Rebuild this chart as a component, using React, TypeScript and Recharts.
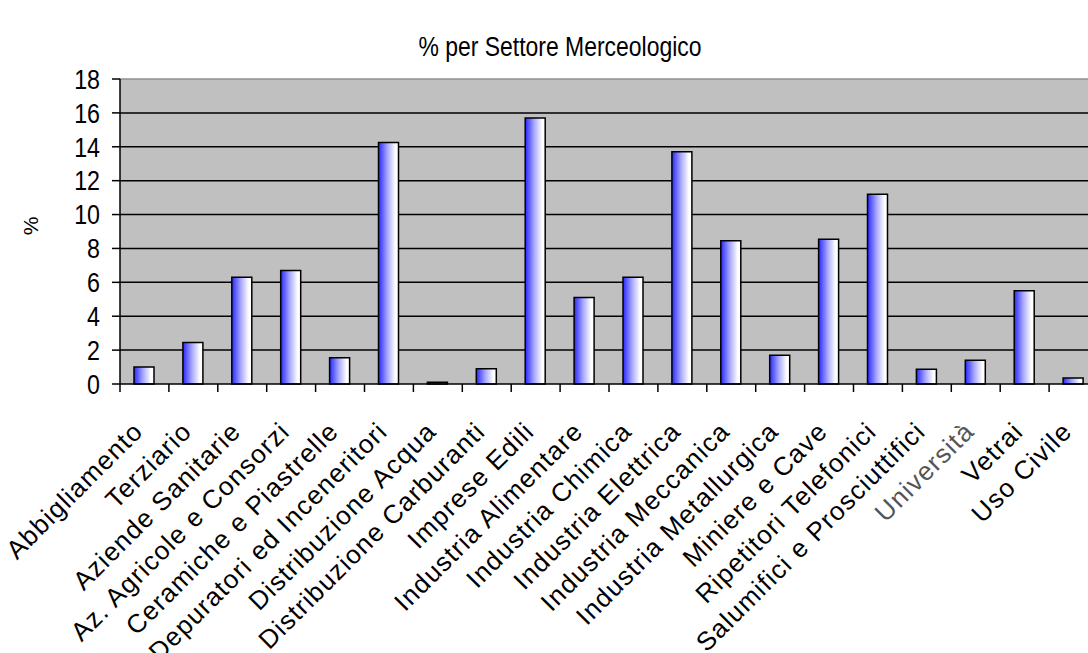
import React from 'react';
import { BarChart, Bar, XAxis, YAxis, CartesianGrid, ReferenceLine } from 'recharts';

const categories = [
  'Abbigliamento',
  'Terziario',
  'Aziende Sanitarie',
  'Az. Agricole e Consorzi',
  'Ceramiche e Piastrelle',
  'Depuratori ed Inceneritori',
  'Distribuzione Acqua',
  'Distribuzione Carburanti',
  'Imprese Edili',
  'Industria Alimentare',
  'Industria Chimica',
  'Industria Elettrica',
  'Industria Meccanica',
  'Industria Metallurgica',
  'Miniere e Cave',
  'Ripetitori Telefonici',
  'Salumifici e Prosciuttifici',
  'Università',
  'Vetrai',
  'Uso Civile',
];

const values = [1.0, 2.45, 6.3, 6.7, 1.55, 14.25, 0.1, 0.9, 15.7, 5.1, 6.3, 13.7, 8.45, 1.7, 8.55, 11.2, 0.87, 1.4, 5.5, 0.35];

const yTicks = [0, 2, 4, 6, 8, 10, 12, 14, 16, 18];
const gridValues = [2, 4, 6, 8, 10, 12, 14, 16];

const title = '% per Settore Merceologico';
const yLabel = '%';

const data = categories.map((name, i) => ({ name, value: values[i] }));

const CHART_W = 1110;
const CHART_H = 653;
const PLOT_LEFT = 120;
const PLOT_TOP = 79;
const PLOT_BOTTOM = 384;
const PLOT_RIGHT = 1098;
const BW = (PLOT_RIGHT - PLOT_LEFT) / categories.length;
const FONT = '"Liberation Sans", Arial, sans-serif';

const XTick = (props: any) => {
  const { x, payload } = props;
  const ax = x;
  const ay = PLOT_BOTTOM + 49;
  return (
    <g>
      <line x1={x - BW / 2} x2={x - BW / 2} y1={PLOT_BOTTOM} y2={PLOT_BOTTOM + 8} stroke="#000" strokeWidth={1.5} />
      <text
        x={ax}
        y={ay}
        textAnchor="end"
        transform={`rotate(-45, ${ax}, ${ay})`}
        fontSize={26}
        letterSpacing={1.2}
        fontFamily={FONT}
        fill={payload.value === 'Università' ? '#555' : '#000'}
      >
        {payload.value}
      </text>
    </g>
  );
};

const YTick = (props: any) => {
  const { y, payload } = props;
  return (
    <text
      transform={`translate(${PLOT_LEFT - 20}, ${y}) scale(0.83, 1)`}
      textAnchor="end"
      dominantBaseline="central"
      fontSize={28}
      fontFamily={FONT}
      fill="#000"
    >
      {payload.value}
    </text>
  );
};

export default function App() {
  return (
    <div style={{ position: 'absolute', left: 0, top: 0, width: 1088, height: 653, overflow: 'hidden', background: '#fff' }}>
      <div
        style={{
          position: 'absolute',
          left: 310,
          top: 32,
          width: 500,
          textAlign: 'center',
          fontFamily: FONT,
          fontSize: 27,
          lineHeight: '30px',
          color: '#000',
          transform: 'scaleX(0.85)',
          whiteSpace: 'nowrap',
        }}
      >
        {title}
      </div>
      <div
        style={{
          position: 'absolute',
          left: 11,
          top: 212,
          width: 40,
          height: 28,
          textAlign: 'center',
          fontFamily: FONT,
          fontSize: 21,
          lineHeight: '28px',
          color: '#000',
          transform: 'rotate(-90deg)',
        }}
      >
        {yLabel}
      </div>
      <BarChart
        width={CHART_W}
        height={CHART_H}
        data={data}
        margin={{ top: PLOT_TOP, right: CHART_W - PLOT_RIGHT, bottom: 0, left: 0 }}
        barSize={20}
      >
        <defs>
          <linearGradient id="barGrad" x1="0" y1="0" x2="1" y2="0">
            <stop offset="0%" stopColor="#2828ff" />
            <stop offset="45%" stopColor="#a8a8ff" />
            <stop offset="85%" stopColor="#ffffff" />
            <stop offset="100%" stopColor="#ffffff" />
          </linearGradient>
        </defs>
        <CartesianGrid
          vertical={false}
          horizontalValues={gridValues}
          fill="#c0c0c0"
          fillOpacity={1}
          stroke="#000"
          strokeWidth={1.5}
        />
        <ReferenceLine y={18} stroke="#909090" strokeWidth={1.5} />
        <XAxis
          dataKey="name"
          interval={0}
          height={CHART_H - PLOT_BOTTOM}
          tickLine={false}
          axisLine={{ stroke: '#000', strokeWidth: 1.5 }}
          tick={<XTick />}
        />
        <YAxis
          width={PLOT_LEFT}
          domain={[0, 18]}
          ticks={yTicks}
          interval={0}
          tickSize={8}
          tickLine={{ stroke: '#000', strokeWidth: 1.5 }}
          axisLine={{ stroke: '#000', strokeWidth: 1.5 }}
          tick={<YTick />}
        />
        <Bar dataKey="value" fill="url(#barGrad)" stroke="#000" strokeWidth={1.5} isAnimationActive={false} />
      </BarChart>
    </div>
  );
}
